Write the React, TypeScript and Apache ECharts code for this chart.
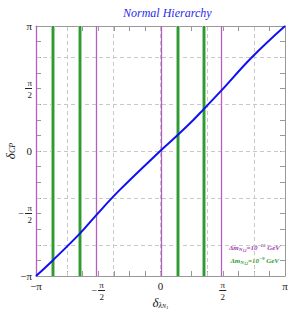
import React, { useEffect, useRef } from "react";
import * as echarts from "echarts";

const PI = Math.PI;
// blue curve (radians)
const curveX = [-3.1416, -2.72, -2.049, -1.62, -1.04, 0.013, 0.434, 0.828, 1.08, 1.527, 2.3, 3.1416];
const curveY = [-3.1416, -2.75, -2.09, -1.61, -0.99, 0.02, 0.402, 0.779, 1.04, 1.51, 2.35, 3.1416];
// vertical lines
const magentaLines = [-3.125, -1.62, 0.013, 1.527];
const greenLines = [-2.72, -2.049, 0.434, 1.09];
// dashed grid positions
const gridVals = [-3 * PI / 4, -3 * PI / 8, 0, 3 * PI / 8, 3 * PI / 4];

const SERIF = "'Liberation Serif', 'DejaVu Serif', serif";

function fracLabel(v: number): string {
  const k = Math.round(v / (PI / 2));
  if (Math.abs(v - k * PI / 2) > 1e-6) return "";
  if (k === 0) return "{n|0}";
  if (k === 2) return "{n|π}";
  if (k === -2) return "{n|−π}";
  if (k === 1) return "{f|π}\n{bar|}\n{f|2}";
  return "{f|   π}\n{m|−}{bar|}\n{f|   2}";
}

const richLabel = {
  n: { fontFamily: SERIF, fontSize: 11, color: "#222", lineHeight: 12 },
  f: { fontFamily: SERIF, fontSize: 9, color: "#222", lineHeight: 9 },
  m: { fontFamily: SERIF, fontSize: 10, color: "#222", lineHeight: 3, padding: [0, 1, 0, 0] },
  bar: { width: 7, height: 1, backgroundColor: "#222", lineHeight: 3 },
};

export default function App() {
  const ref = useRef<HTMLDivElement>(null);
  useEffect(() => {
    if (!ref.current) return;
    const chart = echarts.init(ref.current, null, { renderer: "svg" });
    const axisCommon = {
      type: "value" as const,
      min: -PI,
      max: PI,
      interval: PI / 8,
      axisLine: { show: true, onZero: false, lineStyle: { color: "#999", width: 1 } },
      axisTick: { show: true, inside: true, length: 5, lineStyle: { color: "#999" } },
      splitLine: { show: false },
    };
    const mk = (vals: number[], color: string, width: number, z: number, axis: "xAxis" | "yAxis", type: any = "solid") => ({
      type: "line" as const,
      data: [],
      z,
      markLine: {
        silent: true,
        symbol: "none",
        animation: false,
        label: { show: false },
        lineStyle: { color, width, type, opacity: 1 },
        emphasis: { disabled: true },
        data: vals.map((v) => ({ [axis]: v })),
      },
    });
    const legendRich = (c: string) => ({
      a: { fontFamily: SERIF, fontSize: 7, fontStyle: "italic", fontWeight: "bold", fill: c, lineHeight: 10 },
      s: { fontFamily: SERIF, fontSize: 5, fontStyle: "italic", fontWeight: "bold", fill: c, lineHeight: 10, padding: [3, 0, 0, 0] },
      ss: { fontFamily: SERIF, fontSize: 4, fontStyle: "italic", fontWeight: "bold", fill: c, lineHeight: 10, padding: [5, 0, 0, 0] },
      p: { fontFamily: SERIF, fontSize: 5, fontStyle: "italic", fontWeight: "bold", fill: c, lineHeight: 10, padding: [0, 0, 4, 0] },
    });
    chart.setOption({
      animation: false,
      title: {
        text: "Normal Hierarchy",
        left: 118,
        top: 2,
        textStyle: { fontFamily: SERIF, fontSize: 12, fontStyle: "italic", fontWeight: "normal", color: "#2a2aee" },
      },
      grid: { left: 36, right: 3, top: 26, bottom: 42, containLabel: false, outerBoundsMode: "none" },
      xAxis: [
        {
          ...axisCommon,
          position: "bottom",
          axisLabel: {
            show: true,
            margin: 4,
            hideOverlap: false,
            formatter: (v: number) => fracLabel(v),
            rich: richLabel,
            showMinLabel: true,
            showMaxLabel: true,
          },
          name: "{d|δ}{s|λ}{ss|N}{sss|1}",
          nameLocation: "middle",
          nameGap: 19,
          nameMoveOverlap: false,
          nameTextStyle: {
            rich: {
              d: { fontFamily: SERIF, fontSize: 13, fontStyle: "italic", color: "#222", lineHeight: 14 },
              s: { fontFamily: SERIF, fontSize: 8, fontStyle: "italic", color: "#222", lineHeight: 14, padding: [6, 0, 0, 0] },
              ss: { fontFamily: SERIF, fontSize: 6, fontStyle: "italic", color: "#222", lineHeight: 14, padding: [8, 0, 0, 0] },
              sss: { fontFamily: SERIF, fontSize: 5, fontStyle: "italic", color: "#222", lineHeight: 14, padding: [10, 0, 0, 0] },
            },
          },
        },
        { ...axisCommon, position: "top", axisLabel: { show: false } },
      ],
      yAxis: [
        {
          ...axisCommon,
          position: "left",
          axisLabel: {
            show: true,
            margin: 4,
            hideOverlap: false,
            formatter: (v: number) => fracLabel(v),
            rich: richLabel,
            showMinLabel: true,
            showMaxLabel: true,
          },
          name: "{d|δ}{s|CP}",
          nameLocation: "middle",
          nameGap: 19,
          nameRotate: 90,
          nameMoveOverlap: false,
          nameTextStyle: {
            rich: {
              d: { fontFamily: SERIF, fontSize: 13, fontStyle: "italic", color: "#222", lineHeight: 14 },
              s: { fontFamily: SERIF, fontSize: 8, fontStyle: "italic", color: "#222", lineHeight: 14, padding: [5, 0, 0, 0] },
            },
          },
        },
        { ...axisCommon, position: "right", axisLabel: { show: false } },
      ],
      series: [
        mk(gridVals, "#c8c8c8", 1, 1, "xAxis", [4, 3]),
        mk(gridVals, "#c8c8c8", 1, 1, "yAxis", [4, 3]),
        mk(magentaLines, "#b45fc0", 1.3, 2, "xAxis"),
        mk(greenLines, "#9fd09f", 4, 2, "xAxis"),
        mk(greenLines, "#2f9a2f", 2, 3, "xAxis"),
        {
          type: "line",
          data: curveX.map((x, i) => [x, curveY[i]]),
          smooth: 0.4,
          showSymbol: false,
          symbol: "none",
          z: 5,
          lineStyle: { color: "#1010f0", width: 2 },
        },
      ],
      graphic: [
        {
          type: "text",
          right: 8,
          top: 243,
          style: { text: "{a|Δm}{s|N}{ss|12}{a|=10}{p|−16}{a| GeV}", fill: "#a040b0", rich: legendRich("#a040b0") },
        },
        {
          type: "text",
          right: 9,
          top: 256,
          style: { text: "{a|Δm}{s|N}{ss|12}{a|=10}{p|−9}{a| GeV}", fill: "#2f9a2f", rich: legendRich("#2f9a2f") },
        },
      ],
    });
    return () => chart.dispose();
  }, []);
  return <div ref={ref} style={{ width: 288, height: 318, position: "absolute", left: 0, top: 0 }} />;
}
